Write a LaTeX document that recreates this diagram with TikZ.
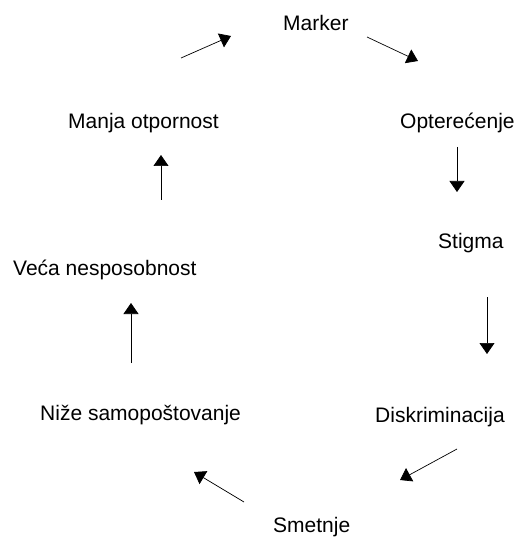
\documentclass[tikz,border=0pt]{standalone}
\usepackage{fontspec}
\setmainfont{Liberation Sans}
\usetikzlibrary{arrows.meta}
\begin{document}
\begin{tikzpicture}[
  x=1pt, y=-1pt,
  every node/.style={anchor=base west, inner sep=0pt, font=\fontsize{21}{25}\selectfont},
  flow/.style={draw, line width=0.7pt, -{Triangle[length=11pt,width=15pt]}}
]
\useasboundingbox (0,0) rectangle (516,537);
% labels round the circle
\node (marker) at (283,31) {Marker};
\node (opt) at (400,129) {Opterećenje};
\node (stigma) at (438,248) {Stigma};
\node (disk) at (375,422) {Diskriminacija};
\node (smet) at (273,532) {Smetnje};
\node (nize) at (40,420) {Niže samopoštovanje};
\node (veca) at (13,275) {Veća nesposobnost};
\node (manja) at (68,129) {Manja otpornost};
% arrow ends
\coordinate (manja-out) at (181,58);
\coordinate (marker-in) at (231,36);
\coordinate (marker-out) at (367,37);
\coordinate (opt-in) at (418,61);
\coordinate (opt-out) at (457,147);
\coordinate (stigma-in) at (457,192);
\coordinate (stigma-out) at (487,297);
\coordinate (disk-in) at (487,354);
\coordinate (disk-out) at (457,449);
\coordinate (smet-in) at (400,480);
\coordinate (smet-out) at (244,502);
\coordinate (nize-in) at (194,472);
\coordinate (nize-out) at (131,363);
\coordinate (veca-in) at (131,303);
\coordinate (veca-out) at (161,200);
\coordinate (manja-in) at (161,155);
% the cycle
\draw[flow] (manja-out) -- (marker-in);
\draw[flow] (marker-out) -- (opt-in);
\draw[flow] (opt-out) -- (stigma-in);
\draw[flow] (stigma-out) -- (disk-in);
\draw[flow] (disk-out) -- (smet-in);
\draw[flow] (smet-out) -- (nize-in);
\draw[flow] (nize-out) -- (veca-in);
\draw[flow] (veca-out) -- (manja-in);
\end{tikzpicture}
\end{document}
